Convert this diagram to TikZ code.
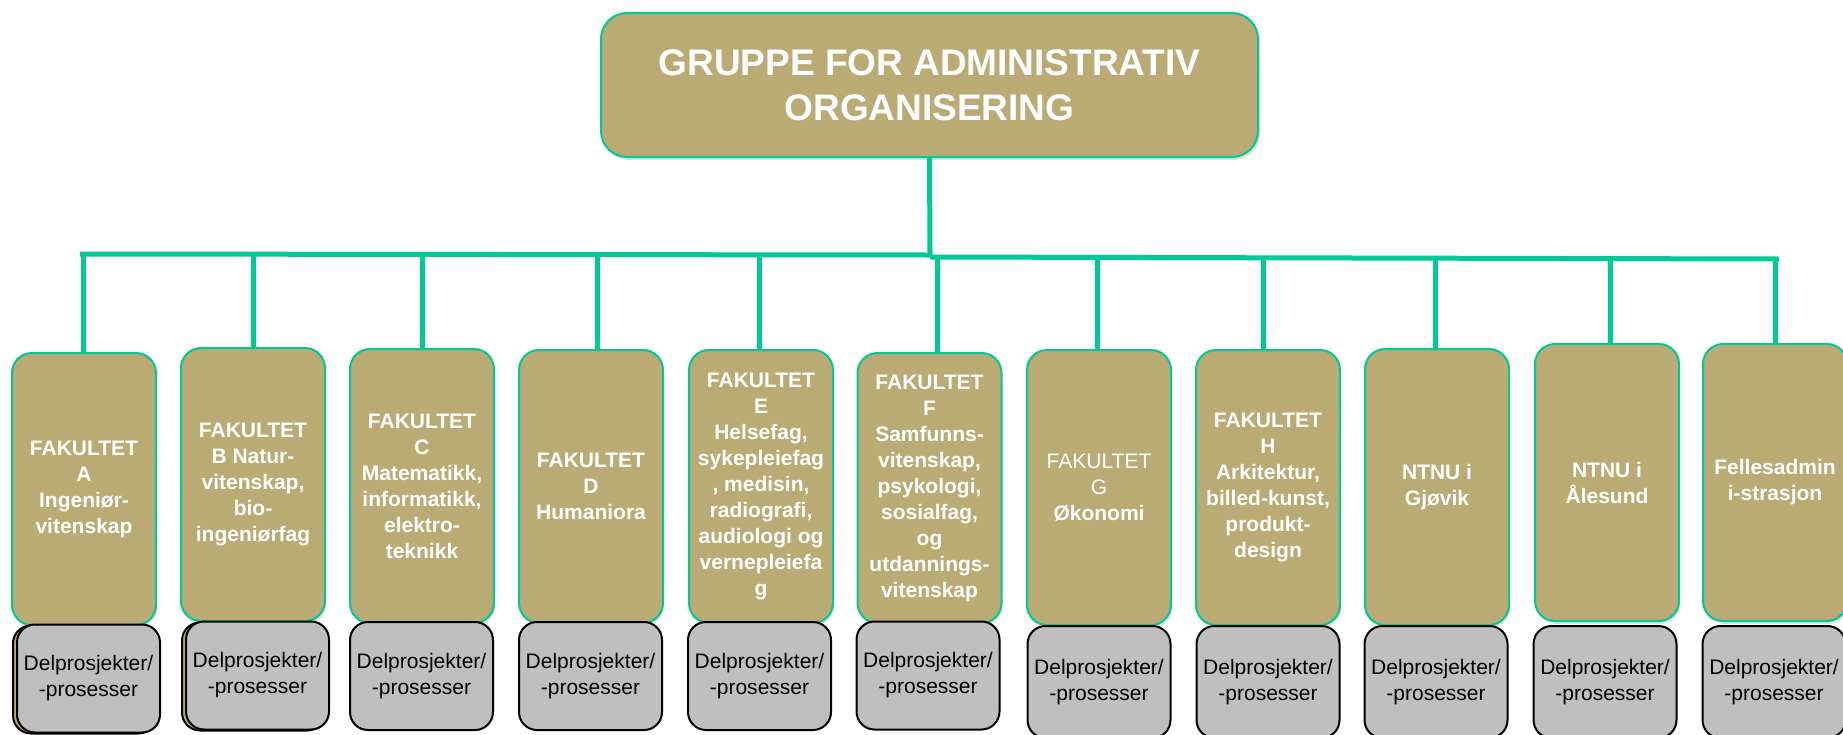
\documentclass[tikz,border=0pt]{standalone}
\usepackage{fontspec}
\setmainfont{Liberation Sans}
\usetikzlibrary{shadows}
\definecolor{gold}{RGB}{186,170,116}
\definecolor{mygreen}{RGB}{0,200,150}
\definecolor{delgray}{RGB}{191,191,191}
\begin{document}
\begin{tikzpicture}[x=1pt,y=-1pt,
  topbox/.style={draw=mygreen, line width=2pt, fill=gold, rounded corners=26pt,
    text=white, font=\fontsize{37}{45}\selectfont\bfseries, align=center, inner sep=0pt,
    minimum width=657pt, minimum height=144pt,
    drop shadow={shadow xshift=2pt, shadow yshift=-3pt, opacity=0.25}},
  facbox/.style={draw=mygreen, line width=2pt, fill=gold, rounded corners=20pt,
    text=white, font=\fontsize{21}{26}\selectfont\bfseries, align=center, inner sep=0pt,
    minimum width=144pt, minimum height=273pt,
    drop shadow={shadow xshift=1pt, shadow yshift=-3pt, opacity=0.25}},
  delbox/.style={draw=black, line width=2pt, fill=delgray, rounded corners=18pt,
    font=\fontsize{21}{26}\selectfont, align=center, inner sep=0pt,
    minimum width=143pt, minimum height=108pt},
  backbox/.style={draw=black, line width=2pt, fill=gold, rounded corners=18pt,
    inner sep=0pt, minimum width=143pt, minimum height=108pt},
  link/.style={draw=mygreen, line width=5pt}]
\useasboundingbox (0,0) rectangle (1843,734);
\clip (0,0) rectangle (1843,734);

% top node
\node[topbox] (top) at (929.5,85) {GRUPPE FOR ADMINISTRATIV\\ORGANISERING};

% faculty boxes
\node[facbox, minimum height=272pt] (fA) at (84,489) {FAKULTET\\A\\Ingeniør-\\vitenskap};
\node[facbox] (fB) at (253,484.5) {FAKULTET\\B Natur-\\vitenskap,\\bio-\\ingeniørfag};
\node[facbox, minimum height=274pt] (fC) at (422,486) {FAKULTET\\C\\Matematikk,\\informatikk,\\elektro-\\teknikk};
\node[facbox] (fD) at (591,486.5) {FAKULTET\\D\\Humaniora};
\node[facbox] (fE) at (761,486.5) {FAKULTET\\E\\Helsefag,\\sykepleiefag\\, medisin,\\radiografi,\\audiologi og\\vernepleiefa\\g};
\node[facbox, minimum height=270pt] (fF) at (929.5,488) {FAKULTET\\F\\Samfunns-\\vitenskap,\\psykologi,\\sosialfag,\\og\\utdannings-\\vitenskap};
\node[facbox, minimum height=275pt] (fG) at (1099,487.5) {\mdseries FAKULTET\\\mdseries G\\\bfseries Økonomi};
\node[facbox, minimum height=275pt] (fH) at (1268,487.5) {FAKULTET\\H\\Arkitektur,\\billed-kunst,\\produkt-\\design};
\node[facbox, minimum height=276pt] (fI) at (1437,487) {NTNU i\\Gjøvik};
\node[facbox, minimum height=277pt] (fJ) at (1607,482.5) {NTNU i\\Ålesund};
\node[facbox, minimum height=277pt] (fK) at (1775,482.5) {Fellesadmin\\i-strasjon};

% sub-project boxes
\node[backbox] (bA) at (84.5,679.5) {};
\node[delbox] (dA) at (88.5,678.5) {Delprosjekter/\\-prosesser};
\node[backbox] (bB) at (253.5,676.5) {};
\node[delbox] (dB) at (257.5,675.5) {Delprosjekter/\\-prosesser};
\node[delbox] (dC) at (421.5,676) {Delprosjekter/\\-prosesser};
\node[delbox] (dD) at (590.5,676) {Delprosjekter/\\-prosesser};
\node[delbox] (dE) at (759.5,676) {Delprosjekter/\\-prosesser};
\node[delbox] (dF) at (928,675.5) {Delprosjekter/\\-prosesser};
\node[delbox, minimum height=112pt] (dG) at (1099,682) {Delprosjekter/\\-prosesser};
\node[delbox, minimum height=112pt] (dH) at (1268,682) {Delprosjekter/\\-prosesser};
\node[delbox, minimum height=112pt] (dI) at (1436,682) {Delprosjekter/\\-prosesser};
\node[delbox, minimum height=112pt] (dJ) at (1605,682) {Delprosjekter/\\-prosesser};
\node[delbox, minimum height=112pt] (dK) at (1774,682) {Delprosjekter/\\-prosesser};

% bus coordinates
\coordinate (busL) at (80,254);
\coordinate (busM) at (930,255);
\coordinate (busM2) at (930,257);
\coordinate (busR) at (1779,259);
\draw[link] (top.south) -- (busM);
\draw[link] (busL) -- (busM) (busM2) -- (busR);

\foreach \n/\x/\y in {A/83/254, B/253/254, C/422/254, D/597/255, E/759/255,
                      F/937/257, G/1097/258, H/1263/258, I/1435/258, J/1610/259, K/1775/259}{
  \coordinate (drop\n) at (\x,\y);
  \draw[link] (drop\n) -- (drop\n |- f\n.north);
}
\end{tikzpicture}
\end{document}
